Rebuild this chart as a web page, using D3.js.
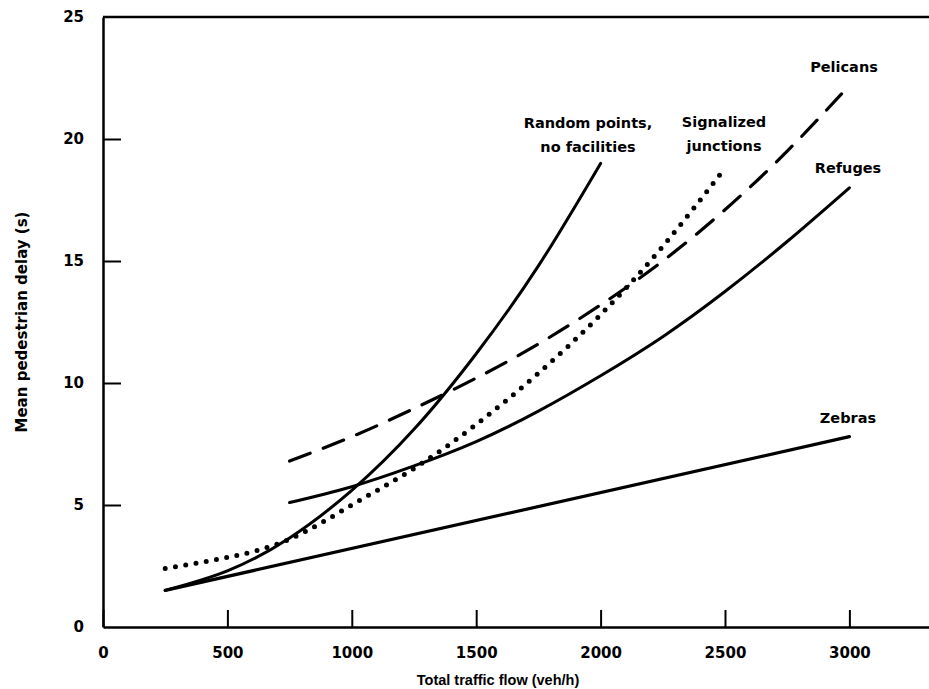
<!DOCTYPE html>
<html>
<head>
<meta charset="utf-8">
<script src="https://cdn.jsdelivr.net/npm/d3@7"></script>
<style>
body { margin: 0; background: #fff; }
#chart text { font-family: "DejaVu Sans", sans-serif; font-weight: bold; fill: #000; }
</style>
</head>
<body>
<div id="chart"></div>
<script>
width = 929
height = 689

// flow (veh/h) vs mean delay (s)
let zebras = [[250, 1.5], [3000, 7.8]]
let refuges = [[750, 5.1], [1000, 5.75], [1250, 6.6], [1500, 7.6], [1750, 8.85], [2000, 10.3], [2250, 11.9], [2500, 13.75], [2750, 15.8], [3000, 18.0]]
let randomPoints = [[250, 1.5], [500, 2.3], [750, 3.65], [1000, 5.6], [1250, 8.1], [1500, 11.2], [1750, 14.8], [2000, 19.0]]
let signalized = [[250, 2.4], [500, 2.85], [750, 3.6], [1000, 5.0], [1250, 6.5], [1500, 8.3], [1750, 10.4], [2000, 12.8], [2250, 15.6], [2500, 18.8]]
let pelicans = [[750, 6.8], [1000, 7.8], [1250, 8.95], [1500, 10.2], [1750, 11.6], [2000, 13.2], [2250, 15.0], [2500, 17.1], [2750, 19.5], [3000, 22.2]]

let xTicks = [0, 500, 1000, 1500, 2000, 2500, 3000]
let yTicks = [0, 5, 10, 15, 20, 25]

let svg = d3.select("#chart")
.append("svg")
.attr("width", width)
.attr("height", height)

let x = d3.scaleLinear().domain([0, 3320]).range([103, 929])
let y = d3.scaleLinear().domain([0, 25]).range([627, 17])

// top frame line
svg.append("line")
.attr("x1", x(0)).attr("x2", x(3320))
.attr("y1", y(25)).attr("y2", y(25))
.attr("stroke", "#000").attr("stroke-width", 2.5)

let xAxis = svg.append("g")
.attr("transform", "translate(0," + y(0) + ")")
.call(d3.axisBottom(x).tickValues(xTicks).tickFormat(d3.format("d")).tickSize(-17).tickSizeOuter(0).tickPadding(20))
xAxis.selectAll("text").attr("font-size", 15)
xAxis.select(".domain").attr("stroke-width", 2.5)
xAxis.selectAll(".tick line").attr("stroke-width", 2)

let yAxis = svg.append("g")
.attr("transform", "translate(" + x(0) + ",0)")
.call(d3.axisLeft(y).tickValues(yTicks).tickSize(-18).tickSizeOuter(0).tickPadding(19))
yAxis.selectAll("text").attr("font-size", 15)
yAxis.select(".domain").attr("stroke-width", 2.5)
yAxis.selectAll(".tick line").attr("stroke-width", 2)
  .attr("display", d => (d == 0 || d == 25) ? "none" : null)

svg.append("text")
.attr("x", 498)
.attr("y", 685)
.attr("text-anchor", "middle")
.style("font-family", "'Liberation Sans', sans-serif")
.attr("font-size", 14.5)
.text("Total traffic flow (veh/h)")

svg.append("text")
.attr("transform", "translate(27,322) rotate(-90)")
.attr("text-anchor", "middle")
.attr("font-size", 15)
.text("Mean pedestrian delay (s)")

let line = d3.line()
.x(d => x(d[0]))
.y(d => y(d[1]))
.curve(d3.curveNatural)

let series = [
	{ data: zebras, dash: null, w: 3.2 },
	{ data: refuges, dash: null, w: 3 },
	{ data: randomPoints, dash: null, w: 3 },
	{ data: pelicans, dash: "22,14", w: 3.2 },
	{ data: signalized, dash: "0,10.4", w: 5 }
]

svg.append("g")
.selectAll("path")
.data(series)
.join("path")
.attr("d", d => line(d.data))
.attr("fill", "none")
.attr("stroke", "#000")
.attr("stroke-width", d => d.w)
.attr("stroke-dasharray", d => d.dash)
.attr("stroke-linecap", "round")

let labels = [
	{ lines: ["Random points,", "no facilities"], x: 588, y: 128 },
	{ lines: ["Signalized", "junctions"], x: 724, y: 127 },
	{ lines: ["Pelicans"], x: 844, y: 72 },
	{ lines: ["Refuges"], x: 848, y: 173 },
	{ lines: ["Zebras"], x: 848, y: 423 }
]

labels.forEach(l => {
	let t = svg.append("text")
	.attr("text-anchor", "middle")
	.attr("font-size", 14.5)
	l.lines.forEach((s, i) => {
		t.append("tspan")
		.attr("x", l.x)
		.attr("y", l.y + i * 23.5)
		.text(s)
	})
})
</script>
</body>
</html>
